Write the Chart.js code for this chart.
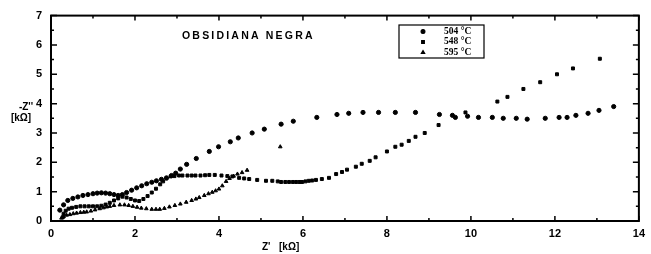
<!DOCTYPE html>
<html>
<head>
<meta charset="utf-8">
<script src="https://cdn.jsdelivr.net/npm/chart.js@4.4.1/dist/chart.umd.min.js"></script>
<style>
  body { margin: 0; background: #fff; }
  #chart { display: block; }
</style>
</head>
<body>
<canvas id="chart" width="651" height="254"></canvas>
<script>
// series: Z' [kOhm] and -Z'' [kOhm]
const labels504 = "504 °C";
const x504 = [0.21,0.3,0.4,0.52,0.64,0.76,0.88,1.0,1.1,1.2,1.3,1.4,1.5,1.6,1.7,1.8,1.92,2.04,2.16,2.28,2.4,2.51,2.63,2.75,2.87,2.97,3.08,3.23,3.46,3.77,3.99,4.27,4.46,4.79,5.08,5.48,5.77,6.33,6.81,7.09,7.43,7.8,8.2,8.68,9.25,9.56,9.63,9.92,10.18,10.51,10.77,11.08,11.34,11.77,12.1,12.29,12.5,12.79,13.05,13.4];
const y504 = [0.37,0.55,0.7,0.77,0.82,0.87,0.9,0.93,0.95,0.96,0.95,0.93,0.9,0.87,0.9,0.97,1.05,1.13,1.2,1.27,1.32,1.37,1.42,1.47,1.55,1.63,1.77,1.93,2.13,2.37,2.53,2.7,2.83,3.0,3.13,3.3,3.4,3.53,3.63,3.67,3.7,3.7,3.7,3.7,3.63,3.6,3.53,3.57,3.53,3.53,3.5,3.5,3.47,3.5,3.53,3.53,3.6,3.67,3.77,3.9];

const labels548 = "548 °C";
const x548 = [0.28,0.3,0.35,0.42,0.5,0.6,0.7,0.8,0.9,1.0,1.1,1.2,1.3,1.4,1.5,1.6,1.7,1.8,1.9,2.0,2.1,2.2,2.3,2.4,2.5,2.6,2.67,2.75,2.85,2.94,3.05,3.13,3.25,3.35,3.44,3.56,3.67,3.77,3.9,4.06,4.2,4.32,4.48,4.6,4.72,4.91,5.12,5.27,5.4,5.48,5.58,5.67,5.76,5.84,5.92,5.98,6.06,6.14,6.22,6.31,6.45,6.62,6.79,6.93,7.05,7.26,7.4,7.59,7.73,8.0,8.2,8.35,8.52,8.68,8.9,9.23,9.87,10.63,10.87,11.25,11.65,12.05,12.43,13.07];
const y548 = [0.13,0.25,0.35,0.42,0.45,0.48,0.5,0.5,0.5,0.5,0.5,0.52,0.56,0.62,0.7,0.77,0.83,0.8,0.75,0.7,0.68,0.75,0.85,0.97,1.1,1.25,1.35,1.45,1.52,1.53,1.55,1.55,1.55,1.55,1.55,1.55,1.56,1.57,1.57,1.55,1.53,1.52,1.47,1.45,1.43,1.4,1.37,1.37,1.35,1.33,1.33,1.33,1.33,1.33,1.33,1.33,1.35,1.37,1.38,1.4,1.43,1.47,1.6,1.67,1.75,1.85,1.95,2.05,2.17,2.37,2.53,2.6,2.73,2.87,3.0,3.27,3.7,4.07,4.23,4.5,4.73,5.0,5.2,5.53];

const labels595 = "595 °C";
const x595 = [0.25,0.3,0.37,0.45,0.53,0.61,0.7,0.78,0.85,0.95,1.05,1.16,1.25,1.33,1.4,1.5,1.64,1.75,1.85,1.95,2.05,2.15,2.27,2.4,2.5,2.59,2.7,2.82,2.95,3.08,3.22,3.35,3.45,3.53,3.65,3.75,3.84,3.92,4.0,4.08,4.17,4.25,4.35,4.44,4.55,4.67,5.46];
const y595 = [0.1,0.15,0.2,0.22,0.25,0.27,0.29,0.3,0.31,0.34,0.38,0.42,0.45,0.48,0.5,0.53,0.55,0.55,0.53,0.5,0.47,0.44,0.42,0.4,0.4,0.4,0.43,0.48,0.53,0.58,0.64,0.7,0.75,0.8,0.87,0.93,0.98,1.03,1.09,1.2,1.35,1.45,1.53,1.6,1.65,1.73,2.53];

const xTicks = [0,2,4,6,8,10,12,14];
const yTicks = [0,1,2,3,4,5,6,7];

function pts(xs, ys) {
    return xs.map((x, i) => ({ x: x, y: ys[i] }));
}

// frame, inward ticks, title, axis labels and legend box
const decor = {
    id: 'decor',
    afterDraw(chart) {
        const ctx = chart.ctx;
        const a = chart.chartArea;
        const xs = chart.scales.x, ys = chart.scales.y;
        ctx.save();
        ctx.strokeStyle = '#000';
        ctx.lineWidth = 2;
        ctx.strokeRect(a.left, a.top, a.right - a.left, a.bottom - a.top);

        ctx.lineWidth = 1.5;
        for (let v = 0; v <= 14; v += 1) {
            const px = xs.getPixelForValue(v);
            const len = v % 2 === 0 ? 5 : 3;
            ctx.beginPath();
            ctx.moveTo(px, a.bottom); ctx.lineTo(px, a.bottom - len);
            ctx.moveTo(px, a.top); ctx.lineTo(px, a.top + len);
            ctx.stroke();
        }
        for (let v = 0; v <= 7; v += 0.5) {
            const py = ys.getPixelForValue(v);
            const len = Number.isInteger(v) ? 6 : 3;
            ctx.beginPath();
            ctx.moveTo(a.left, py); ctx.lineTo(a.left + len, py);
            ctx.moveTo(a.right, py); ctx.lineTo(a.right - len, py);
            ctx.stroke();
        }

        ctx.fillStyle = '#000';
        ctx.font = 'bold 10.5px "Liberation Sans"';
        ctx.letterSpacing = '2.2px';
        ctx.textAlign = 'left';
        ctx.textBaseline = 'middle';
        ctx.fillText('OBSIDIANA NEGRA', 182, 36);
        ctx.letterSpacing = '0px';

        ctx.textAlign = 'center';
        ctx.font = 'bold 10px "Liberation Sans"';
        ctx.fillText("-Z''", 26, 107);
        ctx.fillText('[kΩ]', 21, 118);

        ctx.textAlign = 'left';
        ctx.fillText("Z'", 262, 247);
        ctx.fillText('[kΩ]', 279, 247);

        // legend
        const lx = 399, ly = 25, lw = 85, lh = 33;
        ctx.lineWidth = 1.2;
        ctx.strokeRect(lx, ly, lw, lh);
        ctx.font = 'bold 9.5px "Liberation Serif"';
        chart.data.datasets.forEach((ds, i) => {
            const yy = ly + 6.5 + i * 10.5;
            Chart.helpers.drawPoint(ctx, { pointStyle: ds.pointStyle, radius: 1.9, borderWidth: 1 }, lx + 24, yy);
            ctx.fillText(ds.label, lx + 45, yy);
        });
        ctx.restore();
    }
};

new Chart(document.getElementById('chart'), {
    type: 'scatter',
    data: {
        datasets: [
            { label: labels504, data: pts(x504, y504), pointStyle: 'circle' },
            { label: labels548, data: pts(x548, y548), pointStyle: 'rect' },
            { label: labels595, data: pts(x595, y595), pointStyle: 'triangle' }
        ]
    },
    options: {
        responsive: false,
        animation: false,
        layout: { padding: { top: 11, right: 9, left: 0, bottom: 0 } },
        elements: {
            point: { radius: 2.1, backgroundColor: '#000', borderColor: '#000', borderWidth: 1 }
        },
        plugins: { legend: { display: false }, tooltip: { enabled: false } },
        scales: {
            x: {
                type: 'linear', min: 0, max: 14,
                afterBuildTicks: s => { s.ticks = xTicks.map(v => ({ value: v })); },
                afterFit: s => { s.height = 33; },
                grid: { display: false, drawTicks: false },
                border: { display: false },
                ticks: { padding: 6, color: '#000', font: { family: 'Liberation Sans', size: 11, weight: 'bold' } }
            },
            y: {
                type: 'linear', min: 0, max: 7,
                afterBuildTicks: s => { s.ticks = yTicks.map(v => ({ value: v })); },
                afterFit: s => { s.width = 51; },
                grid: { display: false, drawTicks: false },
                border: { display: false },
                ticks: { padding: 9, color: '#000', font: { family: 'Liberation Sans', size: 11, weight: 'bold' } }
            }
        }
    },
    plugins: [decor]
});
</script>
</body>
</html>
